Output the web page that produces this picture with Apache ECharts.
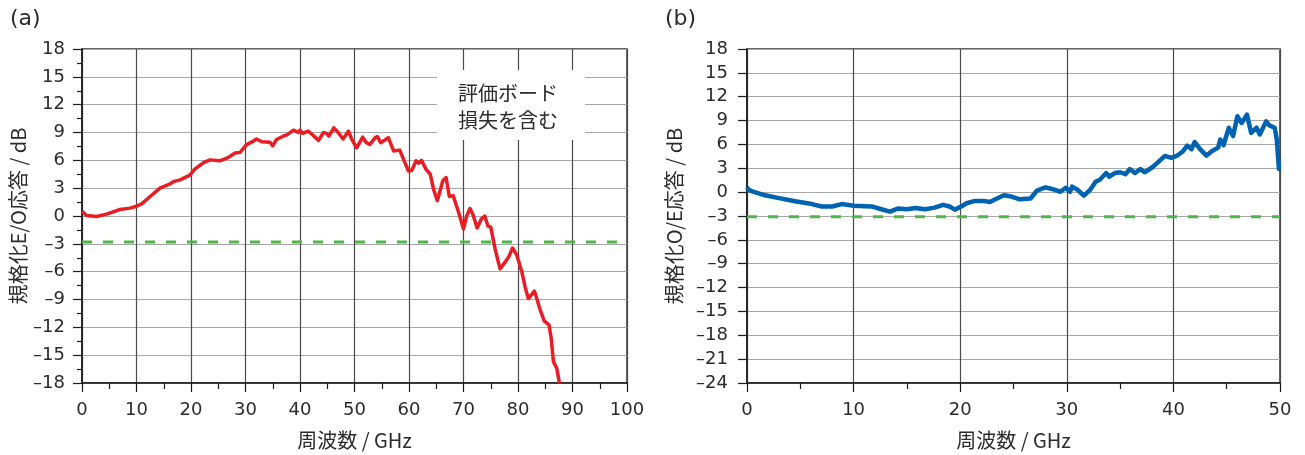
<!DOCTYPE html>
<html>
<head>
<meta charset="utf-8">
<script src="https://cdn.jsdelivr.net/npm/echarts@6/dist/echarts.min.js"></script>
<style>
  html, body { margin: 0; padding: 0; background: #fff; }
  #chart { width: 1305px; height: 455px; }
</style>
</head>
<body>
<div id="chart"></div>
<script>
// (a) normalized E/O response, evaluation-board loss included
const freqA = [0, 0.2, 0.85, 2.7, 4.5, 7.0, 8.8, 10, 10.95, 12.5, 14.3, 16.1, 16.75, 18.0, 19.8, 20.7, 22.3, 23.5, 25.3, 26.8, 28.1, 29.0,
  30.2, 31.4, 32.0, 33.0, 34.5, 35.0, 35.7, 36.9, 37.6, 38.8, 39.7, 40.0, 40.5, 41.5, 42.4, 43.4, 44.3, 44.9, 45.3,
  46.2, 47.0, 47.9, 48.9, 49.5, 50.4, 51.5, 52.2, 52.8, 53.8, 54.2, 54.8, 55.6, 56.2, 57.2, 58.3, 59.0, 59.9,
  60.5, 61.3, 61.7, 62.3, 63.1, 63.9, 64.5, 65.2, 66.2, 66.8, 67.4, 68.1, 69.1, 70.0, 70.6, 71.2, 71.8, 72.5,
  73.3, 73.9, 74.5, 75.0, 75.8, 76.7, 77.6, 78.3, 79.0, 79.8, 80.7, 81.3, 81.9, 83.0, 83.3, 84.0, 84.8, 85.7,
  86.1, 86.5, 87.1, 87.6];
const respA = [0.5, 0.3, 0.05, -0.05, 0.2, 0.7, 0.85, 1.05, 1.3, 2.1, 3.0, 3.45, 3.7, 3.9, 4.4, 5.05, 5.75, 6.05, 5.95, 6.3, 6.8, 6.85,
  7.7, 8.05, 8.3, 8.0, 7.95, 7.55, 8.25, 8.6, 8.75, 9.25, 9.0, 9.25, 8.9, 9.15, 8.7, 8.15, 9.0, 8.9, 8.6,
  9.5, 9.0, 8.3, 9.15, 8.25, 7.35, 8.5, 7.9, 7.7, 8.45, 8.55, 7.9, 8.2, 8.45, 7.0, 7.1, 6.1, 4.85,
  4.9, 5.95, 5.7, 6.0, 5.05, 4.5, 2.9, 1.65, 3.8, 4.15, 2.1, 2.2, 0.4, -1.4, 0.05, 0.8, 0.05, -1.3,
  -0.3, 0.0, -1.1, -1.2, -3.55, -5.7, -5.0, -4.4, -3.45, -4.25, -6.0, -7.65, -8.9, -8.1, -8.6, -10.0, -11.3, -11.75,
  -13.2, -15.7, -16.4, -18.0];
const refLevelA = -2.8;

// (b) normalized O/E response
const freqB = [0, 0.15, 0.5, 1.7, 3.0, 4.5, 6.1, 7.0, 8.0, 8.9, 10.0, 11.7, 12.6, 13.4, 14.2, 15.0, 15.8, 16.7, 17.6, 18.4, 19.0,
  19.5, 20.1, 20.6, 21.4, 22.2, 22.8, 23.3, 24.1, 24.8, 25.6, 26.6, 27.2, 28.0, 28.6, 29.4, 29.9, 30.3, 30.5,
  31.0, 31.6, 32.2, 32.7, 33.1, 33.7, 34.0, 34.5, 35.0, 35.5, 35.9, 36.4, 36.9, 37.3, 38.0, 38.6, 39.2, 39.8,
  40.3, 40.9, 41.3, 41.7, 42.0, 42.5, 43.1, 43.6, 44.2, 44.4, 44.7, 45.2, 45.6, 46.0, 46.4, 46.9, 47.3, 47.8,
  48.1, 48.7, 49.0, 49.5, 49.7, 49.9, 50.0];
const respB = [0.6, 0.3, 0.1, -0.4, -0.75, -1.15, -1.5, -1.8, -1.8, -1.5, -1.7, -1.8, -2.15, -2.45, -2.05, -2.15, -2.0, -2.15, -1.95, -1.6, -1.8,
  -2.2, -1.8, -1.4, -1.1, -1.1, -1.25, -0.9, -0.4, -0.55, -0.9, -0.8, 0.2, 0.6, 0.4, 0.05, 0.55, 0.05, 0.7,
  0.3, -0.45, 0.3, 1.3, 1.55, 2.4, 1.95, 2.4, 2.5, 2.25, 2.9, 2.4, 2.9, 2.5, 3.1, 3.8, 4.55, 4.3,
  4.55, 5.15, 5.85, 5.4, 6.3, 5.4, 4.6, 5.15, 5.6, 6.6, 5.9, 8.1, 7.05, 9.55, 8.7, 9.75, 7.45, 8.1,
  7.25, 8.9, 8.4, 8.1, 6.6, 2.9, 2.9];
const refLevelB = -3.1;

const panelLabels = ['(a)', '(b)'];
const yNameA = '規格化E/O応答 / dB';
const yNameB = '規格化O/E応答 / dB';
const xName = '周波数 / GHz';
const noteLines = ['評価ボード', '損失を含む'];

const NUM = '"DejaVu Sans", "Liberation Sans", sans-serif';
const CJK = '"Noto Sans CJK JP", "Liberation Sans", sans-serif';
const TXT = '#2b2b2b';

// negative tick values are typeset with a dash
const dashFmt = v => String(v).replace('-', '\u2013');

function xAxisDef(gridIndex, max) {
  return {
    type: 'value', gridIndex, min: 0, max, interval: 10,
    name: xName, nameLocation: 'middle', nameGap: 47,
    nameTextStyle: { fontFamily: CJK, fontSize: 20, color: TXT },
    axisLine: { show: true, onZero: false, lineStyle: { color: '#1a1a1a', width: 1.5 } },
    axisTick: { show: true, length: 9, lineStyle: { color: '#1a1a1a', width: 1.2 } },
    minorTick: { show: true, splitNumber: 2, length: 6, lineStyle: { color: '#1a1a1a', width: 1.2 } },
    axisLabel: { fontFamily: NUM, fontSize: 18, color: TXT, margin: 18 },
    splitLine: { show: true, lineStyle: { color: '#4a4a4a', width: 1.2 } }
  };
}

function yAxisDef(gridIndex, min, minor, name, nameGap, labelMargin) {
  return {
    type: 'value', gridIndex, min, max: 18, interval: 3,
    name, nameLocation: 'middle', nameGap,
    nameTextStyle: { fontFamily: CJK, fontSize: 20, color: TXT },
    axisLine: { show: true, onZero: false, lineStyle: { color: '#1a1a1a', width: 1.5 } },
    axisTick: { show: true, length: 9, lineStyle: { color: '#1a1a1a', width: 1.2 } },
    minorTick: { show: minor, splitNumber: 2, length: 5, lineStyle: { color: '#1a1a1a', width: 1.2 } },
    axisLabel: { fontFamily: NUM, fontSize: 18, color: TXT, margin: labelMargin, formatter: dashFmt },
    splitLine: { show: true, lineStyle: { color: '#a8a8a8', width: 1.2 } }
  };
}

function refLine(value, xi, yi, xmax) {
  return {
    type: 'line', xAxisIndex: xi, yAxisIndex: yi, silent: true, symbol: 'none', z: 3,
    data: [[0, value], [xmax, value]],
    lineStyle: { color: '#4db848', width: 3, type: [10, 11] }
  };
}

const chart = echarts.init(document.getElementById('chart'), null, { renderer: 'canvas' });
chart.setOption({
  animation: false,
  backgroundColor: '#fff',
  grid: [
    { left: 82, top: 49, width: 545, height: 336, show: true, borderColor: '#333', borderWidth: 1.5, backgroundColor: 'transparent' },
    { left: 747, top: 49, width: 533, height: 336, show: true, borderColor: '#333', borderWidth: 1.5, backgroundColor: 'transparent' }
  ],
  xAxis: [xAxisDef(0, 100), xAxisDef(1, 50)],
  yAxis: [yAxisDef(0, -18, true, yNameA, 54, 17), yAxisDef(1, -24, false, yNameB, 63, 19)],
  graphic: [
    { type: 'text', left: 10, top: 8, style: { text: panelLabels[0], font: '22px ' + NUM, fill: TXT } },
    { type: 'text', left: 665, top: 8, style: { text: panelLabels[1], font: '22px ' + NUM, fill: TXT } },
    { type: 'rect', shape: { x: 437, y: 70, width: 148, height: 70 }, style: { fill: '#fff' }, z: 10 },
    { type: 'text', x: 508, y: 93, z: 11,
      style: { text: noteLines[0], font: '20px ' + CJK, fill: TXT, align: 'center', verticalAlign: 'middle' } },
    { type: 'text', x: 508, y: 120, z: 11,
      style: { text: noteLines[1], font: '20px ' + CJK, fill: TXT, align: 'center', verticalAlign: 'middle' } }
  ],
  series: [
    refLine(refLevelA, 0, 0, 100),
    refLine(refLevelB, 1, 1, 50),
    {
      type: 'line', xAxisIndex: 0, yAxisIndex: 0, symbol: 'none', z: 5, clip: true,
      data: freqA.map((f, i) => [f, respA[i]]),
      lineStyle: { color: '#ec1c24', width: 3.5, join: 'round' }
    },
    {
      type: 'line', xAxisIndex: 1, yAxisIndex: 1, symbol: 'none', z: 5, clip: true,
      data: freqB.map((f, i) => [f, respB[i]]),
      lineStyle: { color: '#0063b1', width: 4.5, join: 'round' }
    }
  ]
});
</script>
</body>
</html>
